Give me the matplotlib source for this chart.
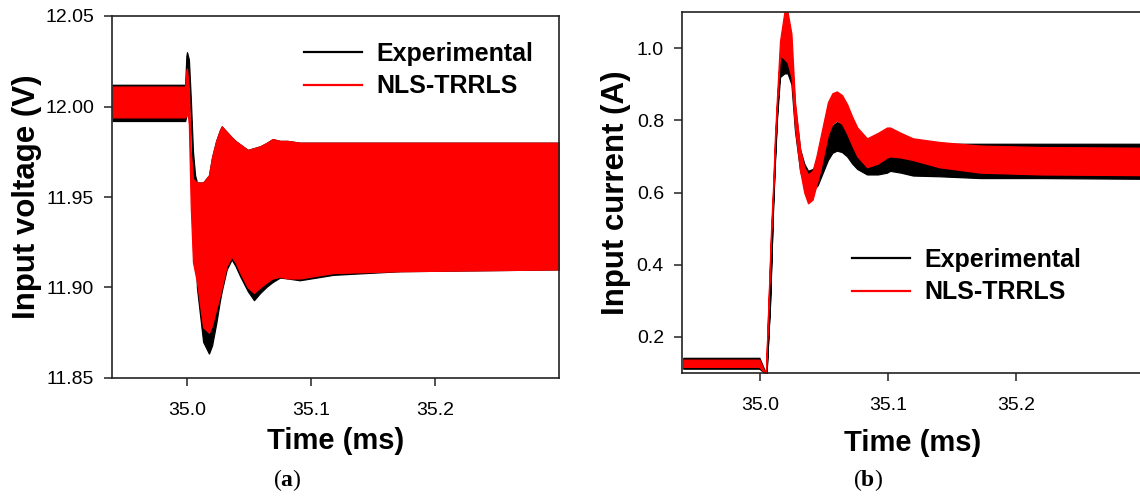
import matplotlib
matplotlib.use("Agg")
import matplotlib.pyplot as plt
from matplotlib.lines import Line2D

plt.rcParams['font.family'] = ['Liberation Sans', 'DejaVu Sans']
plt.rcParams['mathtext.fontset'] = 'custom'
plt.rcParams['mathtext.rm'] = 'Liberation Serif'
plt.rcParams['mathtext.bf'] = 'Liberation Serif:bold'

# ---------------- data (envelopes of the switching ripple) ----------------
# (a) input voltage, Experimental
v_exp_t = [34.94, 34.9985, 34.9995, 35.0, 35.0015, 35.003, 35.0048, 35.0065, 35.008, 35.013,
           35.0177, 35.0202, 35.0235, 35.0266, 35.028, 35.032, 35.036, 35.039, 35.043, 35.049,
           35.054, 35.059, 35.0645, 35.069, 35.075, 35.081, 35.091, 35.118, 35.172, 35.30]
v_exp_hi = [12.012, 12.012, 12.028, 12.030, 12.026, 12.005, 11.975, 11.962, 11.958, 11.958,
            11.962, 11.972, 11.981, 11.987, 11.989, 11.986, 11.983, 11.981, 11.979, 11.976,
            11.977, 11.978, 11.980, 11.982, 11.981, 11.981, 11.980, 11.980, 11.980, 11.980]
v_exp_lo = [11.992, 11.992, 11.995, 12.000, 12.010, 11.995, 11.960, 11.930, 11.900, 11.870,
            11.8635, 11.868, 11.880, 11.893, 11.898, 11.910, 11.9155, 11.912, 11.906, 11.898,
            11.893, 11.897, 11.9006, 11.903, 11.9055, 11.905, 11.904, 11.907, 11.909, 11.910]

# (a) input voltage, NLS-TRRLS
v_nls_t = [34.94, 34.9985, 34.9995, 35.0, 35.0015, 35.003, 35.0048, 35.008, 35.013, 35.0177,
           35.0202, 35.0235, 35.0266, 35.028, 35.032, 35.036, 35.039, 35.043, 35.049, 35.054,
           35.059, 35.0645, 35.069, 35.075, 35.081, 35.091, 35.118, 35.172, 35.30]
v_nls_hi = [12.011, 12.011, 12.020, 12.021, 12.010, 11.975, 11.960, 11.958, 11.958, 11.962,
            11.972, 11.981, 11.987, 11.989, 11.986, 11.983, 11.981, 11.979, 11.976, 11.977,
            11.978, 11.980, 11.982, 11.981, 11.981, 11.980, 11.980, 11.980, 11.980]
v_nls_lo = [11.994, 11.994, 11.995, 12.000, 11.990, 11.945, 11.914, 11.903, 11.878, 11.875,
            11.879, 11.888, 11.896, 11.900, 11.912, 11.917, 11.914, 11.908, 11.900, 11.897,
            11.900, 11.903, 11.905, 11.906, 11.905, 11.905, 11.908, 11.909, 11.910]

# (b) input current, Experimental
i_exp_t = [34.94, 34.9995, 35.005, 35.0078, 35.0086, 35.0102, 35.0117, 35.0133, 35.0156, 35.019,
           35.0215, 35.0245, 35.0273, 35.0313, 35.0345, 35.0375, 35.041, 35.045, 35.049, 35.053,
           35.0565, 35.060, 35.064, 35.068, 35.072, 35.076, 35.0836, 35.092, 35.0992, 35.1016,
           35.11, 35.1195, 35.14, 35.172, 35.22, 35.30]
i_exp_hi = [0.142, 0.142, 0.095, 0.30, 0.39, 0.57, 0.70, 0.82, 0.95, 1.06,
            1.06, 0.99, 0.84, 0.72, 0.68, 0.66, 0.665, 0.68, 0.72, 0.765,
            0.785, 0.795, 0.79, 0.77, 0.745, 0.725, 0.71, 0.72, 0.735, 0.735,
            0.73, 0.72, 0.735, 0.735, 0.735, 0.735]
i_exp_lo = [0.112, 0.112, 0.095, 0.29, 0.38, 0.56, 0.69, 0.81, 0.92, 0.93,
            0.93, 0.90, 0.77, 0.66, 0.62, 0.60, 0.605, 0.62, 0.655, 0.69,
            0.71, 0.716, 0.712, 0.70, 0.68, 0.665, 0.65, 0.65, 0.655, 0.66,
            0.655, 0.647, 0.645, 0.64, 0.64, 0.638]

# (b) input current, NLS-TRRLS
i_nls_t = [34.94, 34.9995, 35.0045, 35.0086, 35.0102, 35.0117, 35.0133, 35.0156, 35.019, 35.0215,
           35.0245, 35.0273, 35.0313, 35.0345, 35.0375, 35.041, 35.044, 35.047, 35.050, 35.053,
           35.0565, 35.060, 35.064, 35.068, 35.072, 35.076, 35.0836, 35.092, 35.0992, 35.1016,
           35.11, 35.1195, 35.14, 35.172, 35.22, 35.30]
i_nls_hi = [0.137, 0.137, 0.095, 0.50, 0.62, 0.76, 0.87, 1.02, 1.10, 1.10,
            1.04, 0.85, 0.72, 0.67, 0.65, 0.66, 0.70, 0.75, 0.80, 0.85,
            0.875, 0.88, 0.87, 0.845, 0.81, 0.78, 0.75, 0.765, 0.78, 0.78,
            0.765, 0.75, 0.74, 0.73, 0.726, 0.724]
i_nls_lo = [0.117, 0.117, 0.095, 0.48, 0.60, 0.74, 0.85, 0.98, 0.97, 0.96,
            0.92, 0.78, 0.66, 0.60, 0.57, 0.58, 0.62, 0.66, 0.71, 0.76,
            0.79, 0.80, 0.79, 0.763, 0.73, 0.70, 0.67, 0.68, 0.697, 0.70,
            0.697, 0.69, 0.67, 0.655, 0.65, 0.648]

x_ticks = [35.0, 35.1, 35.2]
v_ticks = [11.85, 11.90, 11.95, 12.00, 12.05]
i_ticks = [0.2, 0.4, 0.6, 0.8, 1.0]
series_labels = ['Experimental', 'NLS-TRRLS']
series_colors = ['black', '#ff0000']

# ---------------- figure ----------------
W, H = 1140, 497
fig = plt.figure(figsize=(W / 100, H / 100), dpi=100)


def px_axes(x0, y0, x1, y1):
    return fig.add_axes([x0 / W, 1 - y1 / H, (x1 - x0) / W, (y1 - y0) / H])


axA = px_axes(112, 16, 559, 378)
axB = px_axes(682, 12, 1144, 373)


def style(ax):
    for s in ax.spines.values():
        s.set_linewidth(1.2)
        s.set_color('#222222')
    ax.tick_params(direction='out', length=6, width=1.2, color='#333333',
                   labelsize=14, pad=7)
    ax.tick_params(axis='x', pad=11)


# panel (a)
axA.fill_between(v_exp_t, v_exp_lo, v_exp_hi, color=series_colors[0], lw=0.9)
axA.fill_between(v_nls_t, v_nls_lo, v_nls_hi, color=series_colors[1], lw=0.9)
axA.set_xlim(34.9395, 35.3)
axA.set_ylim(11.85, 12.05)
axA.set_xticks(x_ticks)
axA.set_xticklabels(['35.0', '35.1', '35.2'])
axA.set_yticks(v_ticks)
axA.set_yticklabels(['11.85', '11.90', '11.95', '12.00', '12.05'])
style(axA)
axA.set_xlabel('Time (ms)', fontsize=21, fontweight='bold', labelpad=6)
axA.set_ylabel('Input voltage (V)', fontsize=22.5, fontweight='bold', labelpad=2)

# panel (b)
axB.fill_between(i_exp_t, i_exp_lo, i_exp_hi, color=series_colors[0], lw=0.9)
axB.fill_between(i_nls_t, i_nls_lo, i_nls_hi, color=series_colors[1], lw=0.9)
axB.set_xlim(34.939, 35.3)
axB.set_ylim(0.1, 1.1)
axB.set_xticks(x_ticks)
axB.set_xticklabels(['35.0', '35.1', '35.2'])
axB.set_yticks(i_ticks)
axB.set_yticklabels(['0.2', '0.4', '0.6', '0.8', '1.0'])
style(axB)
axB.spines['right'].set_visible(False)
axB.set_xlabel('Time (ms)', fontsize=21, fontweight='bold', labelpad=11)
axB.set_ylabel('Input current (A)', fontsize=22.5, fontweight='bold', labelpad=4)

handles = [Line2D([], [], color=c, lw=1.6) for c in series_colors]


def add_legend(ax, x_px, y_px):
    ax.legend(handles, series_labels, loc='upper left',
              bbox_to_anchor=(x_px / W, 1 - y_px / H), bbox_transform=fig.transFigure,
              frameon=False, borderpad=0, borderaxespad=0, handlelength=2.3,
              handletextpad=0.6, labelspacing=0.33,
              prop={'family': 'Liberation Sans', 'weight': 'bold', 'size': 18})


add_legend(axA, 304, 42)
add_legend(axB, 852, 248)

fig.text(287 / W, 1 - 480 / H, r'($\mathbf{a}$)', ha='center', va='center',
         fontsize=17, family='Liberation Serif')
fig.text(868 / W, 1 - 480 / H, r'($\mathbf{b}$)', ha='center', va='center',
         fontsize=17, family='Liberation Serif')

fig.savefig('out.png', dpi=100)
